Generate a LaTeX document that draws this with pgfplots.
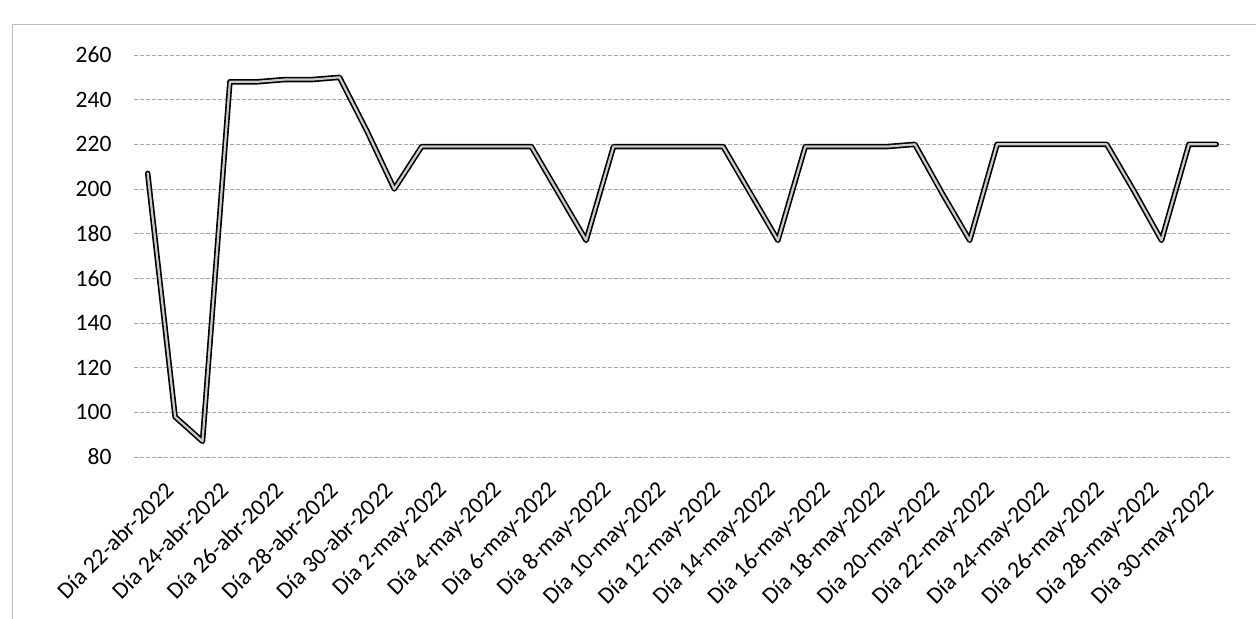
\documentclass[border=0pt]{standalone}
\usepackage{fontspec}
\setmainfont{Carlito}
\usepackage{pgfplots}
\pgfplotsset{compat=1.18}
\usepackage{pgfplotstable}

% dia (0 = 22-abr-2022) y valor
\pgfplotstableread{
dia valor
0  207
1  98
2  87
3  248
4  248
5  249
6  249
7  250
8  226
9  200
10 219
11 219
12 219
13 219
14 219
15 198
16 177
17 219
18 219
19 219
20 219
21 219
22 198
23 177
24 219
25 219
26 219
27 219
28 220
29 198
30 177
31 220
32 220
33 220
34 220
35 220
36 199
37 177
38 220
39 220
}\datos

\begin{document}
\begin{tikzpicture}
\useasboundingbox (0,0) rectangle (1256bp,619bp);
\draw[gray!55, line width=1bp] (12bp,0) -- (12bp,594bp) -- (1256bp,594bp);
\begin{axis}[
    at={(134bp,162bp)}, anchor=south west,
    scale only axis,
    width=1096bp, height=402bp,
    xmin=-0.5, xmax=39.5,
    ymin=80, ymax=260,
    ytick={80,100,...,260},
    xtick={0,2,...,38},
    xticklabels={D\'ia 22-abr-2022, D\'ia 24-abr-2022, D\'ia 26-abr-2022,
        D\'ia 28-abr-2022, D\'ia 30-abr-2022, D\'ia 2-may-2022,
        D\'ia 4-may-2022, D\'ia 6-may-2022, D\'ia 8-may-2022,
        D\'ia 10-may-2022, D\'ia 12-may-2022, D\'ia 14-may-2022,
        D\'ia 16-may-2022, D\'ia 18-may-2022, D\'ia 20-may-2022,
        D\'ia 22-may-2022, D\'ia 24-may-2022, D\'ia 26-may-2022,
        D\'ia 28-may-2022, D\'ia 30-may-2022},
    axis line style={draw=none},
    tick style={draw=none},
    ymajorgrids,
    grid style={gray!70, line width=0.9bp, dash pattern=on 4bp off 2bp},
    tick label style={font=\fontsize{23.5bp}{28bp}\selectfont},
    /pgf/number format/assume math mode=true,
    yticklabel style={xshift=-19bp},
    xticklabel style={rotate=45, anchor=east, xshift=-2bp, yshift=-36bp},
    clip=false,
]
\addplot[black, line width=5.5bp, line join=round, line cap=round] table[x=dia, y=valor] {\datos};
\addplot[gray!40, line width=2.2bp, line join=round, line cap=round] table[x=dia, y=valor] {\datos};
\end{axis}
\end{tikzpicture}
\end{document}
